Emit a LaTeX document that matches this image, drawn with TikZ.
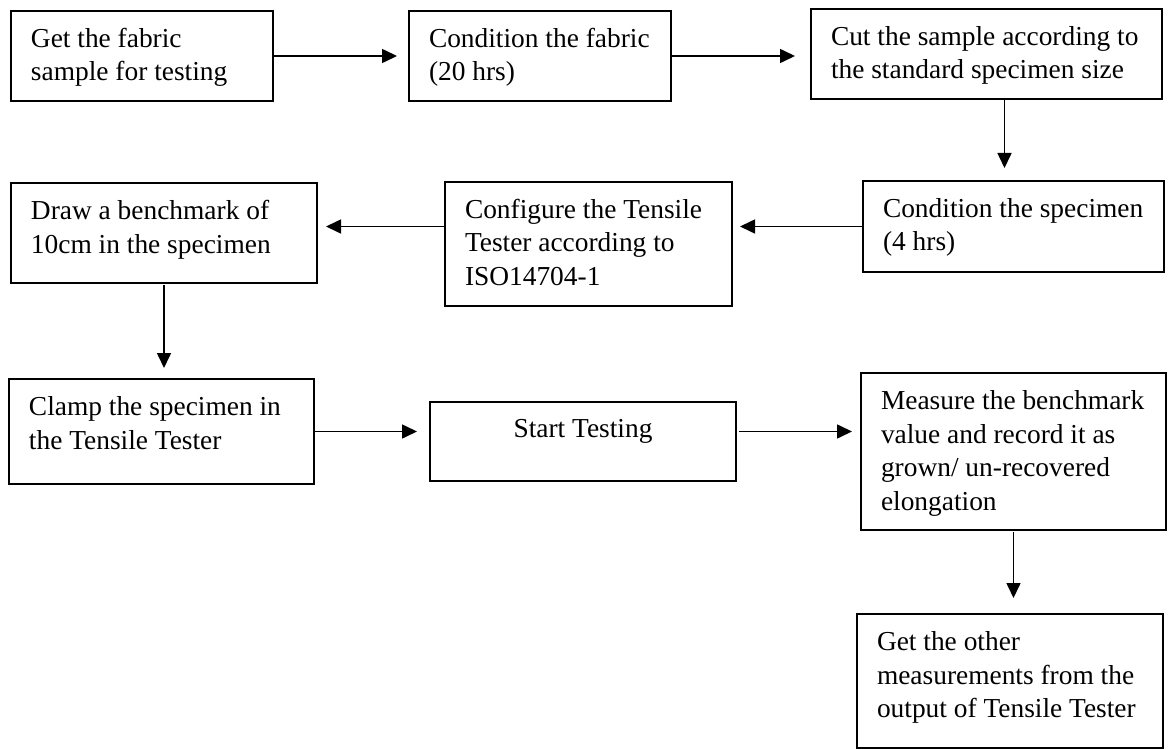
\documentclass[tikz,border=0pt]{standalone}
\usepackage{fontspec}
\setmainfont{Liberation Serif}
\usetikzlibrary{arrows.meta,calc}
\newcommand\inbox[3]{\hspace*{20pt}\parbox[t][#2pt][t]{\dimexpr#1pt-30pt\relax}{\rule{0pt}{36.5pt}#3}\hspace*{10pt}}
\begin{document}
\begin{tikzpicture}[x=1pt,y=-1pt,
  boxst/.style={draw, line width=1.5pt, inner sep=0pt, outer sep=0pt, anchor=north west,
    font=\fontsize{27.4pt}{33.5pt}\selectfont},
  arr/.style={line width=1.6pt, -{Triangle[length=15pt,width=14pt]}}]
\useasboundingbox (0,0) rectangle (1168,749);
\node[boxst] (b1) at (11,11) {\inbox{262}{90}{Get the fabric\\sample for testing}};
\node[boxst] (b2) at (409,11) {\inbox{262}{90}{Condition the fabric\\(20 hrs)}};
\node[boxst] (b3) at (811,9) {\inbox{351}{90}{Cut the sample according to\\the standard specimen size}};
\node[boxst] (b4) at (863,181) {\inbox{301}{91}{Condition the specimen\\(4 hrs)}};
\node[boxst] (b5) at (445,182) {\inbox{287}{124}{Configure the Tensile\\Tester according to\\ISO14704-1}};
\node[boxst] (b6) at (11,183) {\inbox{306}{100}{Draw a benchmark of\\10cm in the specimen}};
\node[boxst] (b7) at (9,379) {\inbox{305}{105}{Clamp the specimen in\\the Tensile Tester}};
\node[boxst] (b8) at (430,402) {\hspace*{20pt}\parbox[t][79pt][t]{266pt}{\centering\rule{0pt}{35pt}Start Testing}\hspace*{20pt}};
\node[boxst] (b9) at (861,373) {\inbox{305}{157}{Measure the benchmark\\value and record it as\\grown/ un-recovered\\elongation}};
\node[boxst] (b10) at (857,614) {\inbox{306}{134}{Get the other\\measurements from the\\output of Tensile Tester}};
\draw[arr, shorten >=12pt] (b1.east) -- (b1.east -| b2.west);
\draw[arr, shorten >=16pt] (b2.east) -- (b2.east -| b3.west);
\draw[arr, shorten >=13pt] ([xshift=18pt]b3.south) -- ([xshift=18pt]b3.south |- b4.north);
\draw[arr, shorten >=8pt] (b4.west) -- (b4.west -| b5.east);
\draw[arr, shorten >=9pt] (b4.west -| b5.west) -- (b4.west -| b6.east);
\draw[arr, shorten <=2pt, shorten >=11pt] (b6.south) -- (b6.south |- b7.north);
\draw[arr, shorten >=13pt] (b7.east) -- (b7.east -| b8.west);
\draw[arr, shorten <=3pt, shorten >=9pt] (b7.east -| b8.east) -- (b7.east -| b9.west);
\draw[arr, shorten <=2pt, shorten >=16pt] (b9.south) -- (b9.south |- b10.north);
\end{tikzpicture}
\end{document}
